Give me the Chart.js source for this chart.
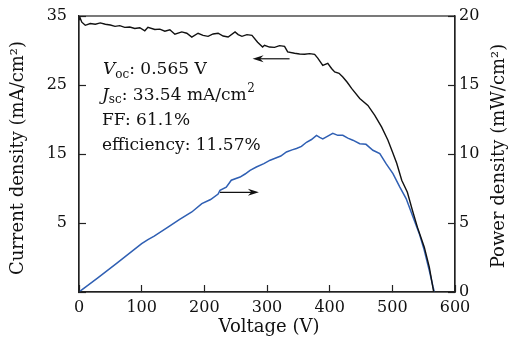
<!DOCTYPE html>
<html>
<head>
<meta charset="utf-8">
<script src="https://cdn.jsdelivr.net/npm/chart.js@4/dist/chart.umd.min.js"></script>
<style>
  html, body { margin: 0; padding: 0; background: #fff; }
  #wrap { width: 510px; height: 347px; }
</style>
</head>
<body>
<div id="wrap"><canvas id="chart"></canvas></div>
<script>
// J-V curve (left axis)
var voltageJ = [0, 1, 4.5, 10, 18, 26, 34, 42, 50, 57.5, 65, 73, 81, 89, 97, 105, 110, 121, 129, 137, 145, 153, 164, 172, 180, 190, 198, 206, 214, 222, 230, 238, 249, 254, 260, 268, 276, 285, 293, 296, 304, 312, 320, 328, 333, 344, 352, 360, 368, 376, 381, 389, 397, 403, 408, 415, 421, 428, 435, 448, 461, 472, 483, 493, 501, 507, 515, 524, 532, 540, 551, 559, 566];
var currentJ = [34.5, 34.9, 34.1, 33.65, 33.9, 33.8, 34.0, 33.8, 33.7, 33.5, 33.6, 33.35, 33.4, 33.2, 33.3, 32.85, 33.35, 33.05, 33.1, 32.8, 33.0, 32.35, 32.7, 32.5, 31.95, 32.5, 32.2, 32.05, 32.4, 32.5, 32.1, 31.95, 32.7, 32.3, 32.05, 32.3, 32.2, 31.2, 30.5, 30.75, 30.5, 30.45, 30.7, 30.6, 29.8, 29.6, 29.5, 29.45, 29.55, 29.45, 28.9, 27.85, 28.15, 27.4, 26.9, 26.7, 26.15, 25.4, 24.5, 23.05, 22.05, 20.6, 18.9, 17.0, 15.1, 13.65, 11.2, 9.45, 6.85, 4.4, 1.5, -1.4, -5];

// P-V curve (right axis)
var voltageP = [0, 30, 60, 100, 110, 120, 142, 160, 180, 196, 210, 222, 225, 235, 243, 257, 265, 273, 283, 295, 305, 312, 322, 331, 340, 347, 355, 363, 371, 379, 384, 389, 397, 405, 413, 421, 429, 437, 448, 458, 469, 480, 490, 501, 512, 522, 533, 543, 551, 559, 565, 567];
var powerP = [0, 1.03, 2.07, 3.5, 3.8, 4.05, 4.7, 5.25, 5.8, 6.4, 6.7, 7.1, 7.37, 7.6, 8.1, 8.33, 8.55, 8.82, 9.06, 9.3, 9.55, 9.67, 9.85, 10.15, 10.3, 10.4, 10.55, 10.85, 11.05, 11.35, 11.2, 11.1, 11.3, 11.5, 11.35, 11.35, 11.15, 11.0, 10.75, 10.7, 10.27, 10.03, 9.3, 8.58, 7.6, 6.77, 5.43, 4.23, 3.02, 1.56, 0.36, 0];

var xTicks = [0, 100, 200, 300, 400, 500, 600];
var leftTicks = [-5, 5, 15, 25, 35];
var rightTicks = [0, 5, 10, 15, 20];

var serif = "'DejaVu Serif', serif";

function toPoints(xs, ys) {
  return xs.map(function (x, i) { return { x: x, y: ys[i] }; });
}

function setTicks(list) {
  return function (scale) {
    scale.ticks = list.map(function (v) { return { value: v }; });
  };
}

var axisGrid = { drawOnChartArea: false, drawTicks: true, tickLength: -7, color: '#222', tickColor: '#222', tickWidth: 1.2 };
var axisBorder = { display: true, color: '#222', width: 1.2 };

function arrow(ctx, x1, y1, x2, y2) {
  var dir = x2 > x1 ? 1 : -1;
  ctx.beginPath();
  ctx.moveTo(x1, y1);
  ctx.lineTo(x2 - dir * 6, y2);
  ctx.stroke();
  ctx.beginPath();
  ctx.moveTo(x2, y2);
  ctx.lineTo(x2 - dir * 11, y2 - 3.5);
  ctx.lineTo(x2 - dir * 7.5, y2);
  ctx.lineTo(x2 - dir * 11, y2 + 3.5);
  ctx.closePath();
  ctx.fill();
}

var decorations = {
  id: 'decorations',
  afterDraw: function (chart) {
    var ctx = chart.ctx, a = chart.chartArea;
    var sx = chart.scales.x, sl = chart.scales.yL, sr = chart.scales.yR;
    ctx.save();

    // top border box
    ctx.strokeStyle = '#222';
    ctx.lineWidth = 1.2;
    ctx.strokeRect(a.left, a.top, a.right - a.left, a.bottom - a.top);

    // arrows
    ctx.strokeStyle = '#111';
    ctx.fillStyle = '#111';
    ctx.lineWidth = 1.2;
    arrow(ctx, sx.getPixelForValue(336), sl.getPixelForValue(28.8), sx.getPixelForValue(277), sl.getPixelForValue(28.8));
    arrow(ctx, sx.getPixelForValue(225), sr.getPixelForValue(7.22), sx.getPixelForValue(287), sr.getPixelForValue(7.22));

    // info text
    ctx.fillStyle = '#111';
    ctx.textBaseline = 'middle';
    ctx.textAlign = 'left';
    var x0 = a.left + 23, y0 = 70, dy = 25.3;
    var x;

    ctx.font = 'italic 17px ' + serif;
    ctx.fillText('V', x0 + 1, y0);
    x = x0 + 1 + ctx.measureText('V').width;
    ctx.font = '12px ' + serif;
    ctx.fillText('oc', x, y0 + 5);
    x += ctx.measureText('oc').width;
    ctx.font = '17px ' + serif;
    ctx.fillText(': 0.565 V', x, y0);

    ctx.font = 'italic 17px ' + serif;
    ctx.fillText('J', x0, y0 + dy);
    x = x0 + ctx.measureText('J').width;
    ctx.font = '12px ' + serif;
    ctx.fillText('sc', x, y0 + dy + 5);
    x += ctx.measureText('sc').width;
    ctx.font = '17px ' + serif;
    ctx.fillText(': 33.54 mA/cm', x, y0 + dy);
    x += ctx.measureText(': 33.54 mA/cm').width;
    ctx.font = '12px ' + serif;
    ctx.fillText('2', x + 0.5, y0 + dy - 6);

    ctx.font = '17px ' + serif;
    ctx.fillText('FF: 61.1%', x0, y0 + 2 * dy);
    ctx.fillText('efficiency: 11.57%', x0, y0 + 3 * dy);

    // axis titles
    ctx.font = '18px ' + serif;
    ctx.textAlign = 'center';
    ctx.fillText('Voltage (V)', (a.left + a.right) / 2 + 2, 327);

    ctx.save();
    ctx.translate(18, (a.top + a.bottom) / 2 + 4);
    ctx.rotate(-Math.PI / 2);
    ctx.fillText('Current density (mA/cm\u00B2)', 0, 0);
    ctx.restore();

    ctx.save();
    ctx.translate(499, (a.top + a.bottom) / 2 + 2);
    ctx.rotate(-Math.PI / 2);
    ctx.fillText('Power density (mW/cm\u00B2)', 0, 0);
    ctx.restore();

    ctx.restore();
  }
};

new Chart(document.getElementById('chart'), {
  type: 'line',
  data: {
    datasets: [{
      label: 'Current density',
      data: toPoints(voltageJ, currentJ),
      yAxisID: 'yL',
      borderColor: '#111',
      borderWidth: 1.4,
      pointRadius: 0,
      tension: 0
    }, {
      label: 'Power density',
      data: toPoints(voltageP, powerP),
      yAxisID: 'yR',
      borderColor: '#2f5fb3',
      borderWidth: 1.5,
      pointRadius: 0,
      tension: 0
    }]
  },
  options: {
    responsive: true,
    maintainAspectRatio: false,
    animation: false,
    layout: { padding: { top: 16, left: 0, right: 0, bottom: 0 } },
    plugins: { legend: { display: false }, tooltip: { enabled: false } },
    scales: {
      x: {
        type: 'linear', position: 'bottom', min: 0, max: 600,
        afterBuildTicks: setTicks(xTicks),
        afterFit: function (s) { s.height = 55; s.paddingLeft = 0; s.paddingRight = 0; },
        grid: axisGrid, border: axisBorder,
        ticks: { color: '#111', padding: 13, maxRotation: 0, font: { family: serif, size: 16 } }
      },
      yL: {
        type: 'linear', position: 'left', min: -5, max: 35,
        afterBuildTicks: setTicks(leftTicks),
        afterFit: function (s) { s.width = 79; s.paddingTop = 0; s.paddingBottom = 0; },
        grid: axisGrid, border: axisBorder,
        ticks: {
          color: '#111', padding: 19, font: { family: serif, size: 16 },
          callback: function (v) { return v < 0 ? '' : v; }
        }
      },
      yR: {
        type: 'linear', position: 'right', min: 0, max: 20,
        afterBuildTicks: setTicks(rightTicks),
        afterFit: function (s) { s.width = 55; s.paddingTop = 0; s.paddingBottom = 0; },
        grid: axisGrid, border: axisBorder,
        ticks: { color: '#111', padding: 11, font: { family: serif, size: 16 } }
      }
    }
  },
  plugins: [decorations]
});
</script>
</body>
</html>
